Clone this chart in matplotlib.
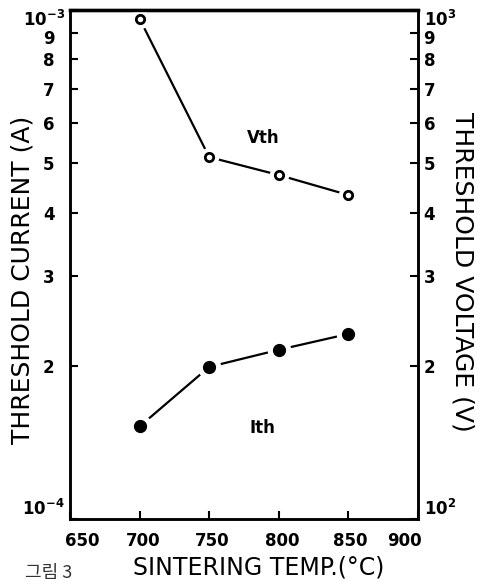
import numpy as np
import matplotlib
matplotlib.use('Agg')
import matplotlib.pyplot as plt
from matplotlib.transforms import ScaledTranslation

plt.rcParams['font.family'] = ['DejaVu Sans', 'Noto Sans CJK KR']

# data
temp = [700, 750, 800, 850]
ith = [1.52e-4, 1.99e-4, 2.15e-4, 2.31e-4]   # threshold current (A)
vth = [961, 514, 474, 433]                   # threshold voltage (V)

xticks = [650, 700, 750, 800, 850, 900]
left_ticks = [1e-4, 2e-4, 3e-4, 4e-4, 5e-4, 6e-4, 7e-4, 8e-4, 9e-4, 1e-3]
left_labels = [r'$\mathbf{10^{-4}}$', '2', '3', '4', '5', '6', '7', '8', '9', r'$\mathbf{10^{-3}}$']
right_ticks = [1e2, 2e2, 3e2, 4e2, 5e2, 6e2, 7e2, 8e2, 9e2, 1e3]
right_labels = [r'$\mathbf{10^{2}}$', '2', '3', '4', '5', '6', '7', '8', '9', r'$\mathbf{10^{3}}$']


def nudge(lab, dx, dy):
    # move a tick label by dx, dy pixels
    lab.set_transform(lab.get_transform() + ScaledTranslation(dx/100, -dy/100, fig.dpi_scale_trans))


fig = plt.figure(figsize=(4.85, 5.82), dpi=100)
ax = fig.add_axes([70/485, 1-519/582, 348/485, 509/582])
ax2 = ax.twinx()

for a in (ax, ax2):
    for s in a.spines.values():
        s.set_linewidth(1.8)
        s.set_zorder(10)
    a.spines['top'].set_linewidth(2.4)

ax.set_xlim(650, 900)
ax.set_yscale('log')
ax.set_ylim(1e-4, 1e-3)
ax.set_xticks(xticks)
ax.set_xticklabels([str(t) for t in xticks], fontsize=12, fontweight='bold')
ax.set_yticks(left_ticks)
ax.set_yticklabels(left_labels, fontsize=12, fontweight='bold')
ax.minorticks_off()
ax.tick_params(axis='both', direction='in', length=6, width=1.5)
ax.tick_params(axis='x', pad=9)
ax.tick_params(axis='y', pad=11)

ax2.set_yscale('log')
ax2.set_ylim(1e2, 1e3)
ax2.set_yticks(right_ticks)
ax2.set_yticklabels(right_labels, fontsize=12, fontweight='bold')
ax2.minorticks_off()
ax2.tick_params(axis='y', direction='in', length=6, width=1.5, pad=4)

# hand lettered labels sit a bit off their ticks
shifts = [12, 4, 3, 3, 2, -14]
for lab, dx in zip(ax.get_xticklabels(), shifts):
    nudge(lab, dx, 0)
ylabs = ax.get_yticklabels()
ylabs[0].set_va('bottom')
ylabs[-1].set_va('top')
nudge(ylabs[0], 10, 0)
nudge(ylabs[-1], 10, 0)
nudge(ylabs[-2], 0, 4)
ylabs2 = ax2.get_yticklabels()
ylabs2[0].set_va('bottom')
ylabs2[-1].set_va('top')
nudge(ylabs2[-2], 0, 4)

# lines with white halo so the segments stop short of the markers
ax.plot(temp, ith, color='black', lw=1.6, zorder=2)
ax.plot(temp, ith, 'o', ms=17, mfc='white', mec='none', zorder=3)
ax.plot(temp, ith, 'o', ms=8.5, mfc='black', mec='black', zorder=4)

ax2.plot(temp, vth, color='black', lw=1.6, zorder=2)
ax2.plot(temp, vth, 'o', ms=14, mfc='white', mec='none', zorder=3)
ax2.plot(temp, vth, 'o', ms=6, mfc='white', mec='black', mew=2, zorder=4)

ax.text(789, 5.6e-4, 'Vth', fontsize=12, fontweight='bold', ha='center', va='center')
ax.text(788, 1.51e-4, 'Ith', fontsize=12, fontweight='bold', ha='center', va='center')

fig.text(23/485, 1-280/582, 'THRESHOLD CURRENT (A)', rotation=90, fontsize=18,
         ha='center', va='center')
fig.text(463/485, 1-272/582, 'THRESHOLD VOLTAGE (V)', rotation=-90, fontsize=18,
         ha='center', va='center')
fig.text(259/485, 1-568/582, 'SINTERING TEMP.(°C)', fontsize=17, ha='center', va='center')
fig.text(49/485, 1-573/582, '그림 3', fontsize=13, ha='center', va='center',
         family=['Noto Sans CJK KR', 'DejaVu Sans'], color='#333333')

fig.savefig('out.png', dpi=100)
